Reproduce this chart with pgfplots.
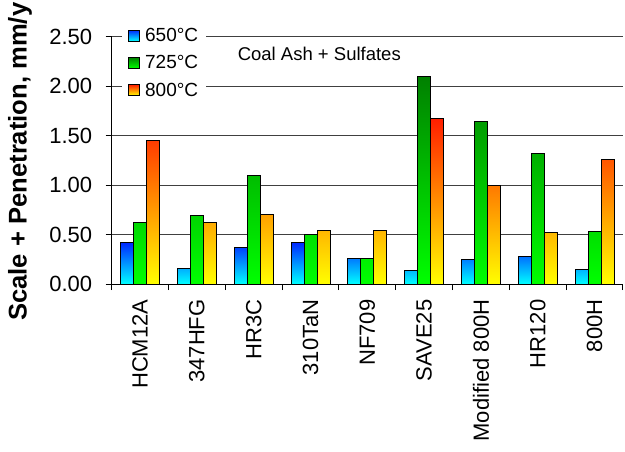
\documentclass[border=0pt]{standalone}
\usepackage{pgfplots}
\pgfplotsset{compat=1.18}
\usepackage{fontspec}
\setmainfont{Liberation Sans}
\definecolor{bluetop}{RGB}{0,40,255}
\definecolor{bluemid}{RGB}{0,150,255}
\definecolor{bluebot}{RGB}{0,255,255}
\definecolor{greentop}{RGB}{0,128,0}
\definecolor{greenmid}{RGB}{0,200,0}
\definecolor{greenbot}{RGB}{0,255,0}
\definecolor{redtop}{RGB}{255,30,0}
\definecolor{redmid}{RGB}{255,160,0}
\definecolor{redbot}{RGB}{255,255,0}
\pgfplotsset{
  myleg/.style={legend image code/.code={\draw[##1] (0pt,-5.5pt) rectangle (11pt,5.5pt);}}
}
\begin{document}
\begin{tikzpicture}
\begin{axis}[
  at={(0pt,0pt)}, anchor=south west,
  scale only axis,
  width=511.3pt, height=247.5pt,
  ybar=0pt, bar width=13pt,
  xmin=-0.5, xmax=8.5,
  ymin=0, ymax=2.5,
  axis x line*=bottom, axis y line*=left,
  axis line style={-, black, line width=1pt},
  xtick={0,1,2,3,4,5,6,7,8},
  xticklabels={HCM12A,347HFG,HR3C,310TaN,NF709,SAVE25,Modified 800H,HR120,800H},
  major x tick style={draw=none},
  minor xtick={-0.5,0.5,1.5,2.5,3.5,4.5,5.5,6.5,7.5,8.5},
  minor x tick style={black, line width=1pt},
  minor tick length=6pt,
  ytick={0,0.5,1,1.5,2,2.5},
  major y tick style={black, line width=1pt},
  major tick length=6pt,
  tick align=outside,
  ymajorgrids,
  grid style={black!75, line width=1pt},
  yticklabel style={xshift=-10pt, /pgf/number format/.cd, fixed, fixed zerofill, precision=2, assume math mode=true},
  ticklabel style={font=\fontsize{22}{26}\selectfont},
  xticklabel style={yshift=-6pt, rotate=90, anchor=east},
  ylabel={\textbf{Scale + Penetration, mm/y}},
  ylabel style={at={(axis description cs:-0.1793,0.494)}, anchor=center, font=\fontsize{25.6}{30}\selectfont},
  legend style={at={(axis description cs:0.0201,1.0505)}, anchor=north west, draw=none, fill=white,
    inner xsep=6pt, inner ysep=2pt, row sep=8.5pt, column sep=3pt, font=\fontsize{19}{22}\selectfont},
  legend cell align=left,
  clip=false,
]
\addplot[myleg, draw=black, line width=1pt, top color=bluetop, middle color=bluemid, bottom color=bluebot] coordinates {
(0,0.42) (1,0.16) (2,0.37) (3,0.42) (4,0.255) (5,0.135) (6,0.245) (7,0.28) (8,0.15)};
\addplot[myleg, draw=black, line width=1pt, top color=greentop, middle color=greenmid, bottom color=greenbot] coordinates {
(0,0.62) (1,0.69) (2,1.10) (3,0.50) (4,0.255) (5,2.10) (6,1.645) (7,1.32) (8,0.535)};
\addplot[myleg, draw=black, line width=1pt, top color=redtop, middle color=redmid, bottom color=redbot] coordinates {
(0,1.45) (1,0.62) (2,0.70) (3,0.545) (4,0.545) (5,1.67) (6,1.00) (7,0.52) (8,1.26)};
\legend{650°C,725°C,800°C}
\node[anchor=base, font=\fontsize{18.5}{22}\selectfont] at (axis description cs:0.406,0.905) {Coal Ash + Sulfates};
\end{axis}
\pgfresetboundingbox
\useasboundingbox (-111.7pt,-167pt) rectangle (513.3pt,284pt);
\end{tikzpicture}
\end{document}
